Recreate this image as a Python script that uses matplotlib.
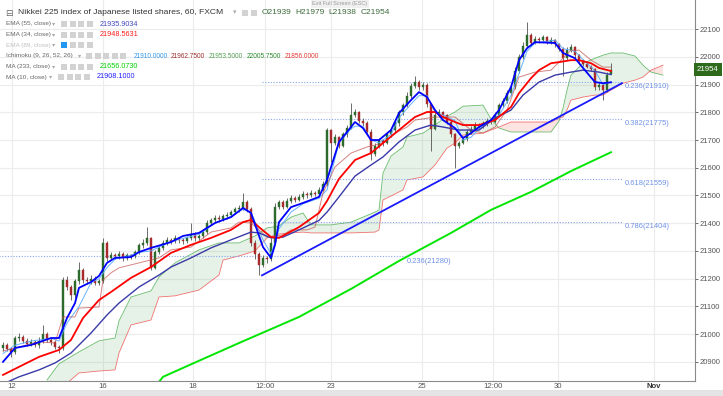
import matplotlib.pyplot as plt
from matplotlib.patches import Rectangle
import numpy as np

plt.rcParams['font.family'] = ['Liberation Sans', 'DejaVu Sans']

# hourly candles, x = bar number
opens = [20950, 20960, 20945, 20935, 20985, 20990, 20975, 20965, 20970, 20960,
         20975, 21000, 20980, 20970, 20955, 20950, 21195, 21170, 21140, 21190,
         21230, 21195, 21190, 21200, 21185, 21190, 21330, 21275, 21285, 21280,
         21290, 21275, 21285, 21280, 21295, 21320, 21330, 21345, 21240, 21295,
         21310, 21330, 21340, 21335, 21345, 21340, 21335, 21345, 21360, 21345,
         21355, 21370, 21400, 21410, 21420, 21415, 21425, 21430, 21440, 21450,
         21455, 21475, 21450, 21330, 21290, 21250, 21275, 21270, 21330, 21460,
         21475, 21460, 21480, 21490, 21485, 21495, 21505, 21500, 21510, 21505,
         21520, 21540, 21735, 21690, 21710, 21680, 21720, 21745, 21790, 21800,
         21770, 21760, 21730, 21650, 21680, 21700, 21690, 21720, 21735, 21760,
         21800, 21825, 21860, 21895, 21910, 21890, 21900, 21830, 21740, 21790,
         21800, 21790, 21765, 21720, 21680, 21690, 21705, 21730, 21740, 21755,
         21750, 21760, 21770, 21765, 21790, 21825, 21840, 21870, 21890, 21950,
         22000, 22040, 22080, 22050, 22065, 22060, 22070, 22055, 22060, 22045,
         22030, 21995, 22025, 22035, 22005, 21985, 21975, 21965, 21955, 21890,
         21900, 21880, 21939]
highs = [20970, 20968, 20952, 20995, 21003, 20998, 20985, 20982, 20978, 20988,
         21033, 21008, 20990, 20975, 20962, 21205, 21210, 21178, 21198, 21260,
         21238, 21205, 21212, 21208, 21198, 21347, 21335, 21295, 21292, 21300,
         21296, 21292, 21290, 21305, 21330, 21342, 21386, 21350, 21305, 21320,
         21338, 21352, 21346, 21356, 21350, 21348, 21355, 21400, 21368, 21362,
         21380, 21410, 21420, 21430, 21428, 21435, 21440, 21448, 21460, 21465,
         21510, 21482, 21458, 21340, 21298, 21285, 21282, 21345, 21472, 21485,
         21483, 21490, 21500, 21497, 21505, 21515, 21512, 21520, 21516, 21530,
         21552, 21745, 21740, 21722, 21716, 21730, 21755, 21833, 21812, 21805,
         21778, 21768, 21738, 21690, 21708, 21705, 21730, 21745, 21770, 21810,
         21835, 21872, 21905, 21932, 21915, 21910, 21905, 21835, 21800, 21812,
         21806, 21795, 21772, 21725, 21698, 21715, 21740, 21750, 21765, 21762,
         21770, 21780, 21776, 21800, 21835, 21850, 21880, 21902, 21962, 22012,
         22052, 22125, 22085, 22075, 22070, 22080, 22075, 22070, 22065, 22050,
         22035, 22035, 22045, 22040, 22012, 21992, 21982, 21972, 21960, 21910,
         21905, 21945, 21979]
lows = [20940, 20938, 20918, 20928, 20975, 20968, 20958, 20958, 20952, 20950,
        20968, 20972, 20962, 20945, 20932, 20942, 21160, 21123, 21132, 21182,
        21186, 21180, 21182, 21176, 21178, 21185, 21262, 21268, 21272, 21270,
        21265, 21268, 21270, 21274, 21288, 21312, 21322, 21231, 21235, 21288,
        21302, 21322, 21325, 21328, 21330, 21326, 21328, 21338, 21335, 21338,
        21348, 21362, 21392, 21402, 21405, 21408, 21415, 21422, 21432, 21442,
        21448, 21440, 21318, 21270, 21215, 21242, 21258, 21262, 21325, 21452,
        21450, 21455, 21472, 21478, 21480, 21488, 21492, 21495, 21498, 21500,
        21515, 21535, 21620, 21682, 21670, 21675, 21712, 21740, 21782, 21762,
        21750, 21722, 21628, 21642, 21672, 21680, 21684, 21712, 21728, 21752,
        21792, 21818, 21852, 21888, 21882, 21880, 21820, 21662, 21735, 21782,
        21782, 21758, 21712, 21600, 21672, 21684, 21698, 21722, 21735, 21742,
        21745, 21752, 21758, 21760, 21785, 21818, 21835, 21862, 21885, 21942,
        21992, 22035, 22040, 22045, 22050, 22052, 22045, 22048, 22035, 22022,
        21930, 21990, 22018, 21995, 21975, 21968, 21958, 21948, 21880, 21882,
        21845, 21872, 21938]
closes = [20960, 20945, 20935, 20985, 20990, 20975, 20965, 20970, 20960, 20975,
          21000, 20980, 20970, 20955, 20950, 21195, 21170, 21140, 21190, 21230,
          21195, 21190, 21200, 21185, 21190, 21330, 21275, 21285, 21280, 21290,
          21275, 21285, 21280, 21295, 21320, 21330, 21345, 21240, 21295, 21310,
          21330, 21340, 21335, 21345, 21340, 21335, 21345, 21360, 21345, 21355,
          21370, 21400, 21410, 21420, 21415, 21425, 21430, 21440, 21450, 21455,
          21475, 21450, 21330, 21290, 21250, 21275, 21270, 21330, 21460, 21475,
          21460, 21480, 21490, 21485, 21495, 21505, 21500, 21510, 21505, 21520,
          21540, 21735, 21690, 21710, 21680, 21720, 21745, 21790, 21800, 21770,
          21760, 21730, 21650, 21680, 21700, 21690, 21720, 21735, 21760, 21800,
          21825, 21860, 21895, 21910, 21890, 21900, 21830, 21740, 21790, 21800,
          21790, 21765, 21720, 21680, 21690, 21705, 21730, 21740, 21755, 21750,
          21760, 21770, 21765, 21790, 21825, 21840, 21870, 21890, 21950, 22000,
          22040, 22080, 22050, 22065, 22060, 22070, 22055, 22060, 22045, 22030,
          21995, 22025, 22035, 22005, 21985, 21975, 21965, 21955, 21890, 21900,
          21880, 21935, 21954]

# indicator lines, read at selected bars
ma10_x = [0, 3, 7, 12, 14, 16, 18, 19, 22, 24, 26, 28, 32, 34, 37, 42, 45, 49, 53, 57,
          60, 62, 65, 67, 68, 69, 72, 75, 79, 81, 84, 87, 88, 90, 92, 94, 97, 99, 102, 104,
          106, 108, 110, 113, 115, 117, 119, 122, 124, 127, 129, 131, 133, 138, 140, 143, 145, 148, 150, 152]
ma10 = [20900, 20950, 20961, 20986, 20986, 21058, 21112, 21167, 21188, 21210, 21257, 21275, 21278, 21296, 21311, 21332, 21354, 21365, 21401, 21422,
        21455, 21437, 21314, 21275, 21322, 21404, 21458, 21473, 21495, 21556, 21693, 21747, 21765, 21743, 21700, 21700, 21736, 21797, 21844, 21873,
        21855, 21808, 21772, 21743, 21707, 21725, 21747, 21772, 21808, 21891, 21988, 22031, 22053, 22050, 22014, 21995, 21960, 21909, 21905, 21908]

tenkan = [20930, 20960, 20975, 20985, 20975, 21040, 21080, 21100, 21185, 21200, 21240, 21270, 21285, 21295, 21300, 21335, 21345, 21360, 21400, 21425,
          21450, 21440, 21340, 21290, 21330, 21380, 21440, 21470, 21490, 21520, 21690, 21740, 21750, 21750, 21700, 21690, 21720, 21780, 21830, 21860,
          21860, 21800, 21790, 21770, 21700, 21710, 21740, 21770, 21790, 21860, 21940, 22020, 22050, 22060, 22030, 22020, 21990, 21950, 21900, 21910]

ema34_x = [0, 4, 9, 14, 17, 20, 24, 27, 32, 37, 42, 47, 52, 57, 60, 62, 64, 67, 69, 74,
           79, 81, 84, 88, 92, 95, 99, 103, 106, 108, 110, 113, 115, 119, 123, 127, 129, 132, 134, 137,
           139, 142, 144, 147, 149, 152]
ema34 = [20853, 20882, 20918, 20943, 20979, 21058, 21123, 21152, 21203, 21242, 21293, 21322, 21347, 21376, 21404, 21412, 21386, 21350, 21347, 21386,
         21437, 21480, 21560, 21628, 21653, 21689, 21736, 21783, 21801, 21801, 21783, 21765, 21754, 21754, 21772, 21819, 21869, 21923, 21952, 21977,
         21981, 21988, 21988, 21977, 21960, 21949]

ema55_x = [0, 4, 9, 13, 17, 22, 26, 29, 34, 39, 42, 47, 52, 57, 62, 64, 67, 70, 74, 79,
           81, 84, 88, 92, 95, 99, 103, 107, 110, 114, 119, 123, 127, 130, 134, 138, 142, 145, 149, 152]
ema55 = [20820, 20846, 20871, 20896, 20932, 21004, 21069, 21112, 21170, 21213, 21242, 21275, 21311, 21340, 21368, 21365, 21347, 21350, 21376, 21410,
         21440, 21495, 21570, 21610, 21639, 21693, 21736, 21754, 21747, 21736, 21736, 21779, 21808, 21862, 21909, 21934, 21945, 21952, 21945, 21936]

ma233_x = [38, 40, 49, 59, 74, 87, 99, 112, 122, 132, 142, 152]
ma233 = [20810, 20846, 20904, 20968, 21062, 21163, 21264, 21365, 21448, 21513, 21588, 21656]

kijun_x = [0, 4, 9, 13, 15, 18, 19, 24, 25, 27, 29, 34, 39, 42, 47, 52, 57, 59, 62, 64,
           66, 70, 72, 76, 78, 80, 83, 87, 91, 95, 98, 101, 103, 108, 113, 117, 120, 123, 126, 129,
           133, 137, 142, 144, 147, 150, 152]
kijun = [20939, 20954, 20972, 20968, 21062, 21062, 21094, 21098, 21195, 21221, 21239, 21257, 21275, 21304, 21314, 21368, 21383, 21404, 21401, 21376,
         21350, 21358, 21376, 21376, 21386, 21509, 21603, 21653, 21675, 21689, 21725, 21747, 21772, 21783, 21783, 21736, 21725, 21747, 21808, 21927,
         21945, 21952, 22024, 22024, 21988, 21963, 21963]

# Ichimoku cloud (leading spans run 26 bars ahead)
cloud_x = [11, 14, 19, 24, 28, 29, 32, 37, 39, 43, 49, 54, 55, 59, 63, 66, 69, 72, 75, 77,
           82, 87, 93, 94, 95, 97, 100, 101, 105, 108, 111, 113, 115, 120, 122, 124, 127, 137, 139, 140,
           141, 142, 145, 148, 150, 152, 155, 158, 160, 162, 165]
span_a = [20835, 20893, 20936, 20976, 20986, 21048, 21134, 21156, 21206, 21257, 21304, 21329, 21329, 21329, 21354, 21383, 21390, 21422, 21437, 21394,
          21394, 21404, 21440, 21448, 21581, 21642, 21675, 21711, 21725, 21754, 21786, 21801, 21822, 21826, 21776, 21743, 21729, 21729, 21768, 21815,
          21880, 21934, 21977, 21995, 22006, 22014, 22014, 22003, 21970, 21945, 21934]
span_b = [20799, 20799, 20860, 20867, 20871, 20932, 21033, 21051, 21134, 21138, 21159, 21213, 21267, 21282, 21300, 21347, 21361, 21365, 21368, 21365,
          21365, 21365, 21368, 21376, 21484, 21498, 21520, 21556, 21567, 21610, 21671, 21689, 21718, 21725, 21736, 21747, 21765, 21765, 21779, 21783,
          21808, 21844, 21855, 21862, 21862, 21880, 21905, 21916, 21927, 21952, 21970]

# drawings
trend_x = [64.75, 154.75]
trend_y = [21212, 21905]
fib_levels = [21910, 21775, 21559, 21404]
fib_names = ['0.236(21910)', '0.382(21775)', '0.618(21559)', '0.786(21404)']
fib_start, fib_end = 64.75, 154.75
fib2_level = 21280
fib2_name = '0.236(21280)'
fib2_end = 100.5

tick_pos = [2.25, 25, 47.5, 65.5, 82, 104.75, 122.5, 138.75, 162.75]
tick_lab = ['12', '16', '18', '12:00', '23', '25', '12:00', '30', 'Nov']
price_ticks = list(range(20900, 22101, 100))
last_price = 21954

W, H = 723, 396
fig = plt.figure(figsize=(W / 100, H / 100), dpi=100)
ax = fig.add_axes([0, 15 / H, 695 / W, 381 / H])
ax.set_xlim(-0.75, 173)
ax.set_ylim(20831, 22205)

# grid + axes
ax.set_yticks(price_ticks)
ax.set_xticks(tick_pos)
ax.set_xticklabels(tick_lab)
ax.grid(color='#ececec', lw=0.8, zorder=0)
ax.set_axisbelow(True)
ax.yaxis.tick_right()
ax.tick_params(axis='y', labelsize=5.5, colors='#555555', length=2, pad=1.5, width=0.6)
ax.tick_params(axis='x', labelsize=5.6, colors='#555555', length=0, pad=1.5)
for lab in ax.get_xticklabels():
    if lab.get_text() == 'Nov':
        lab.set_fontweight('bold')
        lab.set_color('#333333')
for s in ['left', 'top']:
    ax.spines[s].set_visible(False)
for s in ['right', 'bottom']:
    ax.spines[s].set_color('#8a8a8a')
    ax.spines[s].set_linewidth(0.8)

# cloud
ca = np.array(span_a)
cb = np.array(span_b)
ax.fill_between(cloud_x, ca, cb, where=ca >= cb, interpolate=True, color='#43a047', alpha=0.13, lw=0, zorder=1)
ax.fill_between(cloud_x, ca, cb, where=ca < cb, interpolate=True, color='#f44336', alpha=0.15, lw=0, zorder=1)
ax.plot(cloud_x, span_a, color='#4caf50', lw=0.6, alpha=0.8, zorder=2)
ax.plot(cloud_x, span_b, color='#f05050', lw=0.6, alpha=0.8, zorder=2)

# fibonacci levels
for lv, nm in zip(fib_levels, fib_names):
    ax.plot([fib_start, fib_end], [lv, lv], color='#8aa6ee', lw=0.8, ls=(0, (1, 1.5)), zorder=2)
    ax.text(fib_end + 0.6, lv - 4, nm, color='#6f92e6', fontsize=5.4, va='top', ha='left', zorder=6)
ax.plot([-1, fib2_end], [fib2_level, fib2_level], color='#8aa6ee', lw=0.8, ls=(0, (1, 1.5)), zorder=2)
ax.text(fib2_end + 0.5, fib2_level - 4, fib2_name, color='#6f92e6', fontsize=5.4, va='top', ha='left', zorder=6)

# candles
x = np.arange(len(closes))
o = np.array(opens)
c = np.array(closes)
up = c >= o
ax.vlines(x, lows, highs, color='#555555', lw=0.6, zorder=3)
bot = np.minimum(o, c)
hgt = np.maximum(np.abs(c - o), 2)
ax.bar(x[up], hgt[up], bottom=bot[up], width=0.6, color='#2d6b2d', edgecolor='#2d6b2d', lw=0.3, zorder=4)
ax.bar(x[~up], hgt[~up], bottom=bot[~up], width=0.6, color='#a82a2a', edgecolor='#a82a2a', lw=0.3, zorder=4)

# indicator lines
ax.plot(ma10_x, tenkan, color='#55aaff', lw=0.7, alpha=0.9, zorder=4)
ax.plot(kijun_x, kijun, color='#c0504d', lw=0.7, alpha=0.7, zorder=4)
ax.plot(ma233_x, ma233, color='#00e600', lw=1.4, zorder=5)
ax.plot(ema55_x, ema55, color='#3a3aa8', lw=1.0, zorder=5)
ax.plot(ema34_x, ema34, color='#ff0000', lw=1.3, zorder=5)
ax.plot(ma10_x, ma10, color='#0000ff', lw=1.3, zorder=5)
ax.plot(trend_x, trend_y, color='#1a1aff', lw=1.3, zorder=5)

# last price tag
ax.text(1.003, last_price, str(last_price), transform=ax.get_yaxis_transform(), color='white',
        fontsize=5.6, va='center', ha='left', clip_on=False,
        bbox=dict(facecolor='#2e6a1c', edgecolor='none', pad=2.2))


# legend block (top left)
def ftext(px, py, s, color, size=5.0, **kw):
    fig.text(px / W, 1 - py / H, s, color=color, fontsize=size, va='center', ha='left', **kw)


def icons(px, py, n, first='#d2d2d2'):
    for k in range(n):
        fc = first if k == 0 else '#d2d2d2'
        fig.add_artist(Rectangle(((px + k * 8.5) / W, 1 - (py + 3) / H), 6 / W, 6 / H,
                                 facecolor=fc, edgecolor='none', transform=fig.transFigure))


ftext(5, 13, '\u229f', '#666666', size=6.5)
ftext(18, 13, 'Nikkei 225 index of Japanese listed shares, 60, FXCM', '#333333', size=6.1)
ftext(233, 13, '\u25be', '#aaaaaa', size=5)
icons(242, 13, 2)
for lab, val, px in [('O', '21939', 262), ('H', '21979', 295), ('L', '21938', 328), ('C', '21954', 361)]:
    ftext(px, 13, lab + val, '#3d6b3d', size=6.0)

rows = [('EMA (55, close)', 24, 52, 61, [('21935.9034', '#4646c0', 100)], 4, '#d2d2d2', '#666666'),
        ('EMA (34, close)', 34.5, 52, 61, [('21948.5631', '#ff1a1a', 100)], 4, '#d2d2d2', '#666666'),
        ('EMA (89, close)', 45, 52, 61, [], 4, '#2196f3', '#c0c0c0'),
        ('Ichimoku (9, 26, 52, 26)', 56, 78, 86, [('21910.0000', '#3399ee', 134), ('21962.7500', '#a03030', 171),
                                                  ('21953.5000', '#55a055', 209), ('22005.7500', '#2e8b2e', 247),
                                                  ('21856.0000', '#e53935', 285)], 5, '#d2d2d2', '#666666'),
        ('MA (233, close)', 66.5, 52, 61, [('21656.0730', '#00d000', 100)], 4, '#d2d2d2', '#666666'),
        ('MA (10, close)', 77, 49, 58, [('21908.1000', '#2020ff', 97)], 4, '#d2d2d2', '#666666')]
for name, py, arrow_x, icon_x, vals, n, first, col in rows:
    ftext(6, py, name, col, size=4.6)
    ftext(arrow_x, py, '\u25be', '#aaaaaa', size=4.5)
    icons(icon_x, py, n, first)
    vsize = 4.7 if len(vals) > 1 else 5.2
    for v, vc, vx in vals:
        ftext(vx, py, v, vc, size=vsize)

# exit full screen hint, bottom strip
fig.text(340 / W, 1 - 4 / H, 'Exit Full Screen (ESC)', color='#999999', fontsize=4, ha='center', va='center',
         bbox=dict(facecolor='#f0f0f0', edgecolor='none', pad=0.8))
fig.add_artist(Rectangle((0, 0), 1, 6 / H, facecolor='#e4e4e4', edgecolor='none', transform=fig.transFigure))

fig.savefig('out.png', dpi=100)
